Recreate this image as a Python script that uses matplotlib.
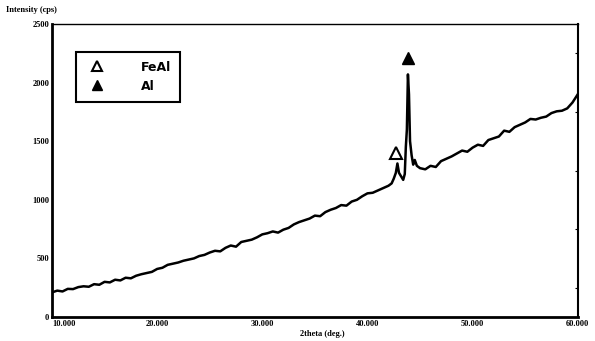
import matplotlib
matplotlib.use("Agg")
import matplotlib.pyplot as plt
from matplotlib.lines import Line2D
from matplotlib.ticker import MultipleLocator

# 2theta (deg.) and intensity (cps)
two_theta = [10.0, 10.5, 11.0, 11.5, 12.0, 12.5, 13.0, 13.5, 14.0, 14.5,
             15.0, 15.5, 16.0, 16.5, 17.0, 17.5, 18.0, 18.5, 19.0, 19.5,
             20.0, 20.5, 21.0, 21.5, 22.0, 22.5, 23.0, 23.5, 24.0, 24.5,
             25.0, 25.5, 26.0, 26.5, 27.0, 27.5, 28.0, 28.5, 29.0, 29.5,
             30.0, 30.5, 31.0, 31.5, 32.0, 32.5, 33.0, 33.5, 34.0, 34.5,
             35.0, 35.5, 36.0, 36.5, 37.0, 37.5, 38.0, 38.5, 39.0, 39.5,
             40.0, 40.5, 41.0, 41.5, 42.0, 42.3, 42.5, 42.7, 42.85, 43.0,
             43.2, 43.4, 43.55, 43.65, 43.75, 43.85, 43.95, 44.05, 44.2, 44.35,
             44.5, 44.7, 45.0, 45.5, 46.0, 46.5, 47.0, 47.5, 48.0, 48.5,
             49.0, 49.5, 50.0, 50.5, 51.0, 51.5, 52.0, 52.5, 53.0, 53.5,
             54.0, 54.5, 55.0, 55.5, 56.0, 56.5, 57.0, 57.5, 58.0, 58.5,
             59.0, 59.5, 60.0]
intensity = [210, 225, 218, 240, 238, 255, 262, 258, 280, 275,
             300, 295, 318, 312, 335, 330, 352, 365, 375, 385,
             410, 420, 445, 455, 465, 480, 490, 500, 520, 530,
             550, 565, 560, 590, 610, 600, 640, 650, 660, 680,
             705, 715, 730, 720, 745, 760, 790, 810, 825, 840,
             865, 860, 895, 915, 930, 955, 950, 985, 1000, 1030,
             1055, 1060, 1080, 1100, 1120, 1140, 1180, 1230, 1310, 1230,
             1200, 1170, 1220, 1450, 1600, 2070, 1900, 1500, 1380, 1300,
             1340, 1290, 1270, 1260, 1290, 1280, 1330, 1350, 1370, 1395,
             1420, 1410, 1445, 1470, 1460, 1510, 1525, 1540, 1590, 1580,
             1620, 1640, 1660, 1690, 1685, 1700, 1710, 1740, 1755, 1760,
             1780, 1830, 1900]

# peak markers
feal_pos = (42.7, 1400)
al_pos = (43.9, 2210)

serif = "Liberation Serif"

fig = plt.figure(figsize=(5.95, 3.41), dpi=100)
ax = fig.add_axes([0.0874, 0.0704, 0.8836, 0.8592])

ax.plot(two_theta, intensity, color="black", lw=1.8)
ax.plot(*feal_pos, marker="^", ms=8, mfc="white", mec="black", mew=1.5, ls="none")
ax.plot(*al_pos, marker="^", ms=8, color="black", ls="none")

ax.set_xlim(10, 60)
ax.set_ylim(0, 2500)
ax.set_xticks([10, 20, 30, 40, 50, 60])
ax.set_xticklabels(["10.000", "20.000", "30.000", "40.000", "50.000", "60.000"])
ax.set_yticks([0, 500, 1000, 1500, 2000, 2500])
for lab in ax.get_xticklabels() + ax.get_yticklabels():
    lab.set_fontfamily(serif)
    lab.set_fontweight("bold")
    lab.set_fontsize(6)
ax.get_xticklabels()[0].set_horizontalalignment("left")
ax.tick_params(axis="both", length=0, pad=2)
ax.yaxis.set_minor_locator(MultipleLocator(250))
ax.tick_params(axis="y", which="minor", right=True, left=False, direction="in",
               length=2, width=0.8)

ax.spines["left"].set_linewidth(2)
ax.spines["bottom"].set_linewidth(2)
ax.spines["right"].set_linewidth(1.5)
ax.spines["top"].set_linewidth(1)
ax.spines["top"].set_linestyle((0, (1, 1)))

fig.text(0.01, 0.965, "Intensity (cps)", fontfamily=serif, fontweight="bold", fontsize=6)
fig.text(0.505, 0.015, "2theta (deg.)", fontfamily=serif, fontweight="bold", fontsize=6)

handles = [Line2D([], [], marker="^", ms=7, mfc="white", mec="black", mew=1.5, ls="none"),
           Line2D([], [], marker="^", ms=7, color="black", ls="none")]
leg = ax.legend(handles, ["FeAl", "Al"], loc="upper left", bbox_to_anchor=(0.046, 0.905),
                fancybox=False, edgecolor="black", framealpha=1, handletextpad=2.5,
                borderpad=0.7, labelspacing=0.5, borderaxespad=0,
                prop={"family": "DejaVu Sans", "weight": "bold", "size": 9})
leg.get_frame().set_linewidth(1.5)

fig.savefig("out.png", dpi=100)
